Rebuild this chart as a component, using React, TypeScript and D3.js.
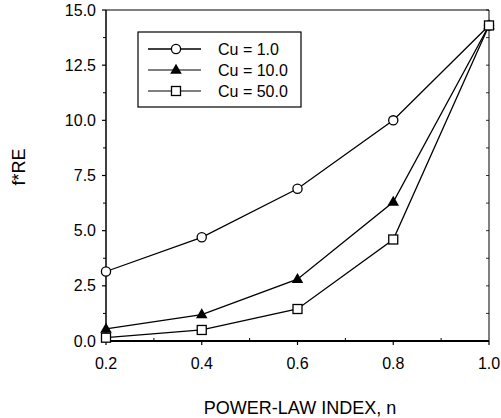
import * as d3 from 'd3';

const nValues = [0.2, 0.4, 0.6, 0.8, 1.0];
const cu1 = [3.15, 4.7, 6.9, 10.0, 14.3];
const cu10 = [0.55, 1.2, 2.8, 6.3, 14.3];
const cu50 = [0.15, 0.5, 1.45, 4.6, 14.3];
const seriesNames = ['Cu = 1.0', 'Cu = 10.0', 'Cu = 50.0'];
const xTicks = [0.2, 0.4, 0.6, 0.8, 1.0];
const yTicks = [0, 2.5, 5, 7.5, 10, 12.5, 15];
const xMinor = [0.3, 0.5, 0.7, 0.9];
const yMinor = [1.25, 3.75, 6.25, 8.75, 11.25, 13.75];

const font = '"Liberation Sans", Arial, sans-serif';

const Marker = ({ kind, cx, cy }: { kind: string; cx: number; cy: number }) => {
  if (kind === 'circle') {
    return <circle cx={cx} cy={cy} r={4.6} fill="#fff" stroke="#000" strokeWidth={1.3} />;
  }
  if (kind === 'triangle') {
    const s = d3.symbol(d3.symbolTriangle, 58)();
    return <path d={s ?? ''} transform={`translate(${cx},${cy + 0.5})`} fill="#000" />;
  }
  return <rect x={cx - 4.5} y={cy - 4.5} width={9} height={9} fill="#fff" stroke="#000" strokeWidth={1.3} />;
};

const App = () => {
  const width = 501;
  const height = 418;
  const left = 106;
  const right = 489;
  const top = 10;
  const bottom = 341;

  const x = d3.scaleLinear([0.2, 1.0], [left, right]);
  const y = d3.scaleLinear([0, 15], [bottom, top]);

  const series = [
    { name: seriesNames[0], values: cu1, kind: 'circle' },
    { name: seriesNames[1], values: cu10, kind: 'triangle' },
    { name: seriesNames[2], values: cu50, kind: 'square' }
  ];

  const line = d3
    .line<number>()
    .x((_, i) => x(nValues[i]))
    .y((d) => y(d));

  return (
    <svg width={width} height={height} style={{ position: 'absolute', left: 0, top: 0 }} fontFamily={font}>
      <rect width={width} height={height} fill="#fff" />
      {/* frame */}
      <line x1={left} x2={right} y1={top} y2={top} stroke="#000" strokeWidth={1} />
      <line x1={right} x2={right} y1={top} y2={bottom} stroke="#000" strokeWidth={1} />
      <line x1={left} x2={left} y1={top} y2={bottom} stroke="#000" strokeWidth={1.5} />
      <line x1={left} x2={right} y1={bottom} y2={bottom} stroke="#000" strokeWidth={2} />

      {/* y ticks */}
      {yTicks.map((t) => (
        <g key={'y' + t}>
          <line x1={left - 4} x2={left} y1={y(t)} y2={y(t)} stroke="#000" strokeWidth={1.2} />
          <text x={left - 10} y={y(t)} dy="0.35em" textAnchor="end" fontSize={16}>
            {t.toFixed(1)}
          </text>
        </g>
      ))}
      {yMinor.map((t) => (
        <line key={'ym' + t} x1={left - 3} x2={left} y1={y(t)} y2={y(t)} stroke="#000" strokeWidth={1} />
      ))}
      {yTicks.concat(yMinor).map((t) => (
        <line key={'yr' + t} x1={right - 3} x2={right} y1={y(t)} y2={y(t)} stroke="#000" strokeWidth={0.8} />
      ))}

      {/* x ticks */}
      {xTicks.map((t) => (
        <g key={'x' + t}>
          <line x1={x(t)} x2={x(t)} y1={bottom} y2={bottom + 4} stroke="#000" strokeWidth={1.2} />
          <text x={x(t)} y={369} textAnchor="middle" fontSize={16}>
            {t.toFixed(1)}
          </text>
        </g>
      ))}
      {xMinor.map((t) => (
        <line key={'xm' + t} x1={x(t)} x2={x(t)} y1={bottom - 3} y2={bottom} stroke="#000" strokeWidth={1} />
      ))}

      {/* series */}
      {series.map((s) => (
        <g key={s.name}>
          <path d={line(s.values) ?? ''} fill="none" stroke="#000" strokeWidth={1.3} />
          {s.values.map((v, i) => (
            <Marker key={i} kind={s.kind} cx={x(nValues[i])} cy={y(v)} />
          ))}
        </g>
      ))}

      {/* legend */}
      <rect x={138} y={32} width={163} height={75} fill="#fff" stroke="#000" strokeWidth={1.2} />
      {series.map((s, i) => {
        const ly = 49 + i * 21;
        return (
          <g key={'lg' + s.name}>
            <line x1={148} x2={201} y1={ly} y2={ly} stroke="#000" strokeWidth={i === 0 ? 1.6 : 1.2} />
            <Marker kind={s.kind} cx={176} cy={ly} />
            <text x={218} y={ly} dy="0.35em" fontSize={16}>
              {s.name}
            </text>
          </g>
        );
      })}

      {/* axis titles */}
      <text x={300} y={414} textAnchor="middle" fontSize={18}>
        POWER-LAW INDEX, n
      </text>
      <text transform={`translate(25,167) rotate(-90)`} textAnchor="middle" fontSize={18}>
        f*RE
      </text>
    </svg>
  );
};

export default App;
